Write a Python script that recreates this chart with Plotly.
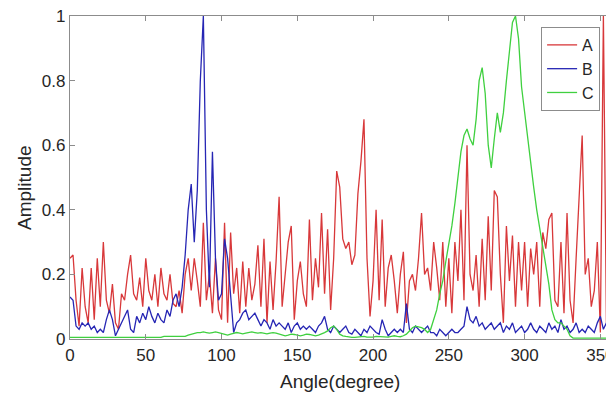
import numpy as np
import plotly.graph_objects as go

# angle grid, one sample every 2 degrees
angle = np.arange(0, 361, 2)

# series A (red)
amp_a = [0.25, 0.26, 0.12, 0.04, 0.22, 0.10, 0.05, 0.22, 0.06, 0.25,
         0.10, 0.30, 0.12, 0.08, 0.17, 0.05, 0.03, 0.14, 0.12, 0.20,
         0.26, 0.14, 0.12, 0.19, 0.10, 0.25, 0.15, 0.12, 0.20, 0.10,
         0.22, 0.14, 0.12, 0.20, 0.11, 0.10, 0.15, 0.08, 0.20, 0.25,
         0.15, 0.25, 0.18, 0.10, 0.36, 0.12, 0.20, 0.08, 0.25, 0.09,
         0.06, 0.36, 0.05, 0.33, 0.14, 0.22, 0.08, 0.24, 0.10, 0.22,
         0.12, 0.17, 0.29, 0.10, 0.31, 0.05, 0.24, 0.09, 0.24, 0.44,
         0.10, 0.20, 0.30, 0.35, 0.06, 0.18, 0.24, 0.14, 0.10, 0.37,
         0.12, 0.25, 0.16, 0.39, 0.14, 0.34, 0.09, 0.25, 0.52, 0.47,
         0.31, 0.28, 0.30, 0.23, 0.26, 0.45, 0.55, 0.68, 0.25, 0.07,
         0.18, 0.40, 0.12, 0.37, 0.10, 0.22, 0.26, 0.18, 0.08, 0.20,
         0.27, 0.05, 0.18, 0.20, 0.15, 0.25, 0.39, 0.20, 0.22, 0.15,
         0.30, 0.22, 0.12, 0.30, 0.10, 0.25, 0.08, 0.30, 0.18, 0.40,
         0.12, 0.60, 0.20, 0.15, 0.26, 0.10, 0.31, 0.12, 0.38, 0.15,
         0.46, 0.44, 0.20, 0.05, 0.35, 0.18, 0.32, 0.10, 0.30, 0.15,
         0.30, 0.10, 0.28, 0.20, 0.30, 0.10, 0.33, 0.28, 0.37, 0.39,
         0.12, 0.10, 0.30, 0.08, 0.39, 0.12, 0.05, 0.25, 0.45, 0.63,
         0.20, 0.25, 0.10, 0.15, 0.30, 0.02, 1.00, 0.05, 0.38, 0.20,
         0.25]

# series B (blue)
amp_b = [0.13, 0.12, 0.04, 0.03, 0.05, 0.04, 0.05, 0.03, 0.04, 0.02,
         0.03, 0.02, 0.06, 0.09, 0.06, 0.01, 0.03, 0.05, 0.07, 0.09,
         0.03, 0.02, 0.07, 0.05, 0.08, 0.06, 0.10, 0.07, 0.05, 0.08,
         0.06, 0.05, 0.09, 0.07, 0.12, 0.14, 0.10, 0.16, 0.26, 0.40,
         0.48, 0.30, 0.46, 0.80, 1.00, 0.40, 0.16, 0.58, 0.25, 0.12,
         0.14, 0.31, 0.25, 0.12, 0.02, 0.05, 0.06, 0.08, 0.09, 0.06,
         0.07, 0.08, 0.06, 0.04, 0.06, 0.05, 0.03, 0.06, 0.04, 0.05,
         0.04, 0.03, 0.05, 0.02, 0.04, 0.05, 0.03, 0.04, 0.03, 0.04,
         0.03, 0.02, 0.04, 0.05, 0.07, 0.03, 0.02, 0.04, 0.03, 0.02,
         0.03, 0.04, 0.02, 0.015, 0.03, 0.02, 0.01, 0.03, 0.02, 0.04,
         0.03, 0.02, 0.015, 0.06, 0.03, 0.01, 0.02, 0.03, 0.02, 0.03,
         0.02, 0.11, 0.03, 0.02, 0.04, 0.03, 0.02, 0.03, 0.04, 0.02,
         0.02, 0.01, 0.03, 0.02, 0.01, 0.02, 0.03, 0.02, 0.02, 0.03,
         0.04, 0.10, 0.06, 0.05, 0.07, 0.04, 0.05, 0.03, 0.04, 0.05,
         0.03, 0.04, 0.05, 0.02, 0.04, 0.03, 0.05, 0.02, 0.03, 0.04,
         0.02, 0.03, 0.05, 0.03, 0.02, 0.04, 0.03, 0.02, 0.05, 0.03,
         0.04, 0.02, 0.06, 0.03, 0.04, 0.02, 0.03, 0.05, 0.02, 0.03,
         0.02, 0.04, 0.03, 0.02, 0.05, 0.07, 0.03, 0.05, 0.02, 0.14,
         0.10]

# series C (green), built up stretch by stretch
c_0_76 = [0.005] * 31 + [0.008] * 8
c_78_110 = [0.012, 0.015, 0.018, 0.02, 0.02, 0.022, 0.02, 0.018, 0.02, 0.022,
            0.02, 0.018, 0.015, 0.012, 0.015, 0.018, 0.02]
c_112_170 = [0.018, 0.016, 0.018, 0.02, 0.022, 0.02, 0.018, 0.02, 0.018, 0.016,
             0.018, 0.02, 0.018, 0.015, 0.012, 0.01, 0.012, 0.015, 0.014, 0.012,
             0.01, 0.012, 0.015, 0.014, 0.012, 0.01, 0.012, 0.015, 0.02, 0.025]
c_172_180 = [0.035, 0.04, 0.03, 0.015, 0.01]
c_182_222 = [0.008, 0.006, 0.005, 0.005, 0.006, 0.008, 0.008, 0.006, 0.005, 0.006,
             0.008, 0.007, 0.006, 0.005, 0.006, 0.008, 0.01, 0.008, 0.007, 0.01,
             0.015]
c_224_234 = [0.025, 0.035, 0.04, 0.038, 0.035, 0.03]
c_236_330 = [0.02, 0.03, 0.06, 0.09, 0.14, 0.18, 0.24, 0.29, 0.35, 0.42,
             0.50, 0.58, 0.63, 0.65, 0.62, 0.60, 0.68, 0.80, 0.84, 0.76,
             0.60, 0.53, 0.62, 0.70, 0.64, 0.70, 0.80, 0.90, 0.98, 1.00,
             0.93, 0.78, 0.70, 0.63, 0.55, 0.47, 0.40, 0.34, 0.28, 0.22,
             0.17, 0.09, 0.06, 0.05, 0.05, 0.04, 0.03, 0.01]
c_332_360 = [0.003] * 15
amp_c = c_0_76 + c_78_110 + c_112_170 + c_172_180 + c_182_222 + c_224_234 + c_236_330 + c_332_360

x_ticks = [0, 50, 100, 150, 200, 250, 300, 350]
y_ticks = [0, 0.2, 0.4, 0.6, 0.8, 1]
y_labels = ["0", "0.2", "0.4", "0.6", "0.8", "1"]

fig = go.Figure()
fig.add_trace(go.Scatter(x=angle, y=amp_a, mode="lines", name="A",
                         line=dict(color="#d8383a", width=1.3)))
fig.add_trace(go.Scatter(x=angle, y=amp_b, mode="lines", name="B",
                         line=dict(color="#2626b4", width=1.3)))
fig.add_trace(go.Scatter(x=angle, y=amp_c, mode="lines", name="C",
                         line=dict(color="#3fd03f", width=1.3)))

axis_style = dict(showline=True, mirror="ticks", linecolor="#8c8c8c", linewidth=1.2,
                  ticks="inside", ticklen=5, tickcolor="#8c8c8c",
                  showgrid=False, zeroline=False, ticklabeloverflow="allow",
                  tickfont=dict(family="Liberation Sans, Arial", size=17, color="#262626"))

fig.update_xaxes(range=[0, 359], tickvals=x_ticks, **axis_style)
fig.update_yaxes(range=[0, 1], tickvals=y_ticks, ticktext=y_labels, **axis_style)

# page body adds an 8px offset, so the figure is 8px smaller than the window
fig.update_layout(
    width=606, height=393,
    margin=dict(l=62, r=0, t=8, b=62),
    plot_bgcolor="white", paper_bgcolor="white",
    font=dict(family="Liberation Sans, Arial", color="#262626"),
    legend=dict(x=0.866, y=0.966, xanchor="left", yanchor="top",
                bgcolor="white", bordercolor="#8c8c8c", borderwidth=1,
                font=dict(size=16), itemwidth=30, tracegroupgap=0),
    annotations=[
        dict(text="Angle(degree)", xref="paper", yref="paper", x=0.496, y=-0.133,
             showarrow=False, font=dict(size=19), xanchor="center", yanchor="middle"),
        dict(text="Amplitude", xref="paper", yref="paper", x=-0.085, y=0.47,
             showarrow=False, font=dict(size=19), textangle=-90,
             xanchor="center", yanchor="middle"),
    ],
)

fig.write_html("out.html")
